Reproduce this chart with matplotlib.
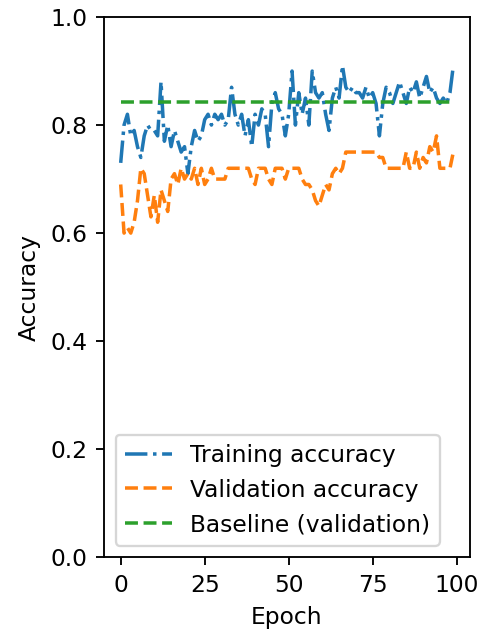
import numpy as np
import matplotlib
matplotlib.use("Agg")
import matplotlib.pyplot as plt

# accuracy per epoch
train_acc = [0.73, 0.80, 0.82, 0.78, 0.79, 0.76, 0.74, 0.78, 0.80, 0.79,
             0.79, 0.78, 0.88, 0.77, 0.80, 0.76, 0.79, 0.77, 0.75, 0.76,
             0.71, 0.76, 0.79, 0.77, 0.78, 0.81, 0.82, 0.80, 0.82, 0.81,
             0.82, 0.80, 0.81, 0.87, 0.82, 0.80, 0.82, 0.78, 0.81, 0.76,
             0.82, 0.80, 0.83, 0.82, 0.76, 0.84, 0.86, 0.83, 0.82, 0.78,
             0.82, 0.90, 0.80, 0.86, 0.82, 0.85, 0.80, 0.90, 0.86, 0.85,
             0.86, 0.82, 0.79, 0.85, 0.87, 0.85, 0.91, 0.87, 0.86, 0.87,
             0.86, 0.86, 0.85, 0.87, 0.85, 0.86, 0.84, 0.78, 0.84, 0.87,
             0.86, 0.84, 0.86, 0.88, 0.86, 0.84, 0.87, 0.86, 0.88, 0.85,
             0.87, 0.89, 0.86, 0.87, 0.85, 0.84, 0.85, 0.84, 0.86, 0.91]

val_acc = [0.69, 0.60, 0.61, 0.60, 0.62, 0.66, 0.72, 0.71, 0.67, 0.63,
           0.67, 0.62, 0.68, 0.66, 0.64, 0.70, 0.71, 0.69, 0.72, 0.70,
           0.71, 0.70, 0.72, 0.69, 0.72, 0.69, 0.70, 0.72, 0.70, 0.70,
           0.70, 0.70, 0.72, 0.72, 0.72, 0.72, 0.72, 0.72, 0.72, 0.70,
           0.69, 0.72, 0.72, 0.72, 0.70, 0.69, 0.72, 0.72, 0.72, 0.70,
           0.72, 0.72, 0.72, 0.72, 0.70, 0.69, 0.69, 0.68, 0.66, 0.65,
           0.67, 0.69, 0.68, 0.71, 0.72, 0.71, 0.72, 0.75, 0.75, 0.75,
           0.75, 0.75, 0.75, 0.75, 0.75, 0.75, 0.75, 0.74, 0.74, 0.72,
           0.72, 0.72, 0.72, 0.72, 0.72, 0.75, 0.72, 0.72, 0.75, 0.72,
           0.74, 0.73, 0.76, 0.75, 0.78, 0.72, 0.72, 0.72, 0.72, 0.75]

baseline = 0.843
epochs = np.arange(len(train_acc))

DPI = 168
fig = plt.figure(figsize=(484 / DPI, 631 / DPI), dpi=DPI)
ax = fig.add_axes([0.215, 0.117, 0.756, 0.856])

ax.plot(epochs, train_acc, "-.", color="tab:blue", label="Training accuracy")
ax.plot(epochs, val_acc, "--", color="tab:orange", label="Validation accuracy")
ax.plot(epochs, [baseline] * len(epochs), "--", color="tab:green",
        label="Baseline (validation)")

ax.set_ylim(0, 1)
ax.set_xlabel("Epoch")
ax.set_ylabel("Accuracy")
ax.legend(loc="lower left")

fig.savefig("out.png", dpi=DPI)
